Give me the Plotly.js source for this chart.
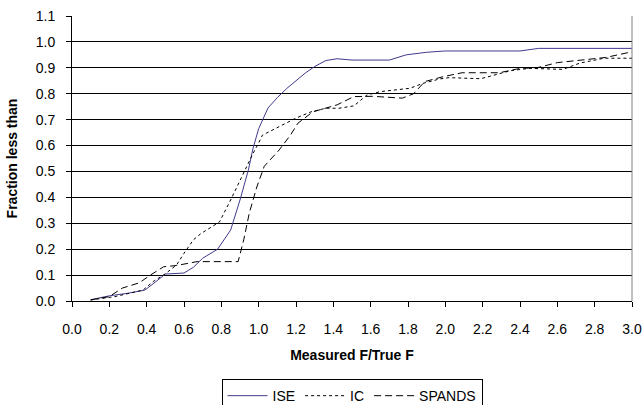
<!DOCTYPE html>
<html>
<head>
<meta charset="utf-8">
<script src="https://cdn.plot.ly/plotly-3.0.1.min.js"></script>
<style>html,body{margin:0;padding:0;background:#fff;}#chart{width:643px;height:405px;}</style>
</head>
<body>
<div id="chart"></div>
<script>
const iseX = [0.10,0.20,0.30,0.39,0.45,0.50,0.60,0.65,0.70,0.78,0.85,0.90,0.945,0.97,1.00,1.02,1.05,1.10,1.15,1.20,1.25,1.30,1.36,1.42,1.50,1.70,1.79,1.90,2.00,2.40,2.50,3.00];
const iseY = [0.005,0.02,0.03,0.042,0.075,0.104,0.108,0.13,0.165,0.20,0.274,0.39,0.506,0.59,0.665,0.70,0.745,0.785,0.82,0.85,0.88,0.905,0.928,0.935,0.93,0.93,0.95,0.96,0.965,0.965,0.975,0.975];

const icX = [0.10,0.23,0.38,0.435,0.50,0.56,0.60,0.65,0.69,0.79,0.85,0.90,0.935,0.97,1.00,1.02,1.11,1.20,1.28,1.36,1.43,1.51,1.58,1.65,1.81,1.88,1.97,2.02,2.19,2.27,2.35,2.45,2.63,2.72,2.85,3.00];
const icY = [0.004,0.017,0.042,0.075,0.105,0.139,0.184,0.236,0.26,0.305,0.39,0.467,0.52,0.57,0.61,0.64,0.673,0.706,0.73,0.744,0.744,0.753,0.795,0.808,0.821,0.84,0.857,0.862,0.858,0.875,0.889,0.898,0.894,0.918,0.937,0.937];

const spX = [0.10,0.20,0.27,0.36,0.42,0.49,0.56,0.67,0.89,0.92,0.95,0.99,1.03,1.11,1.17,1.21,1.29,1.36,1.42,1.51,1.61,1.77,1.83,1.89,1.99,2.09,2.29,2.40,2.49,2.60,2.72,2.86,3.00];
const spY = [0.004,0.017,0.05,0.07,0.10,0.132,0.137,0.152,0.152,0.236,0.34,0.44,0.52,0.583,0.64,0.686,0.73,0.744,0.757,0.789,0.79,0.783,0.80,0.847,0.866,0.881,0.881,0.898,0.90,0.92,0.93,0.94,0.962];

const seriesNames = ['ISE', 'IC', 'SPANDS'];

const traces = [
  {x: iseX, y: iseY, name: seriesNames[0], mode: 'lines', line: {color: '#3f3a8c', width: 1, dash: 'solid'}},
  {x: icX, y: icY, name: seriesNames[1], mode: 'lines', line: {color: '#000000', width: 1, dash: 'dot'}},
  {x: spX, y: spY, name: seriesNames[2], mode: 'lines', line: {color: '#000000', width: 1, dash: '7px,4px'}}
];

const font = {family: 'Liberation Sans, Arial, sans-serif', size: 14, color: '#000'};
const titleFont = {family: 'Liberation Sans, Arial, sans-serif', size: 14, color: '#000'};

const layout = {
  width: 643, height: 405,
  margin: {l: 72, r: 11, t: 16, b: 104, autoexpand: false},
  paper_bgcolor: '#fff', plot_bgcolor: '#fff',
  font: font,
  showlegend: true,
  legend: {orientation: 'h', x: 0.5, xanchor: 'center', xref: 'paper',
           y: 0.064, yanchor: 'top', yref: 'container',
           bordercolor: '#000', borderwidth: 1, bgcolor: '#fff', font: font,
           itemwidth: 40, tracegroupgap: 0},
  xaxis: {
    range: [0, 3], dtick: 0.2, tick0: 0, tickformat: '.1f',
    showgrid: false, zeroline: false, automargin: false,
    showline: true, linecolor: '#000', linewidth: 1,
    ticks: 'outside', ticklen: 5, tickcolor: '#000',
    ticklabelstandoff: 10,
    tickfont: font,
    title: {text: '<b>Measured F/True F</b>', font: titleFont, standoff: 14}
  },
  yaxis: {
    range: [0, 1.1], dtick: 0.1, tick0: 0, tickformat: '.1f',
    showgrid: true, gridcolor: '#000', gridwidth: 1,
    zeroline: false, automargin: false,
    showline: true, linecolor: '#000', linewidth: 1,
    ticks: 'outside', ticklen: 5, tickcolor: '#000',
    ticklabelstandoff: 8,
    tickfont: font,
    title: {text: '<b>Fraction less than</b>', font: titleFont, standoff: 14}
  },
  shapes: [
    {type: 'line', xref: 'paper', yref: 'paper', x0: 1, x1: 1, y0: 0, y1: 1, line: {color: '#808080', width: 1}}
  ]
};

Plotly.newPlot('chart', traces, layout, {displayModeBar: false, staticPlot: true});
</script>
</body>
</html>
